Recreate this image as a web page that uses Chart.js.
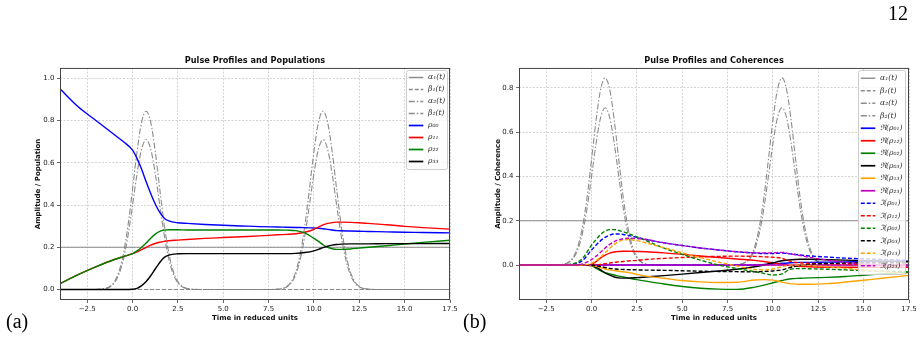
<!DOCTYPE html>
<html>
<head>
<meta charset="utf-8">
<script src="https://cdn.jsdelivr.net/npm/chart.js@4"></script>
<style>
  body { margin: 0; background: #fff; }
  #page { position: relative; width: 923px; height: 338px; overflow: hidden; }
  canvas { position: absolute; top: 0; }
  #popChart { left: 0; }
  #cohChart { left: 460px; }
  .tag { position: absolute; font-family: "Liberation Serif", serif; font-size: 20px; line-height: 1; color: #000; }
</style>
</head>
<body>
<div id="page">
  <canvas id="popChart" width="460" height="338"></canvas>
  <canvas id="cohChart" width="463" height="338"></canvas>
  <div class="tag" style="left:6px; top:311px;">(a)</div>
  <div class="tag" style="left:463px; top:311px;">(b)</div>
  <div class="tag" style="left:888px; top:3px;">12</div>
</div>
<script>
// tick labels
const xTicks = [-2.5, 0, 2.5, 5, 7.5, 10, 12.5, 15, 17.5];
const yTicksPop = [0, 0.2, 0.4, 0.6, 0.8, 1.0];
const yTicksCoh = [0, 0.2, 0.4, 0.6, 0.8];

// pulse profiles
const tEdge = [-4, 17.5];
const alpha1 = [0.2, 0.2];
const beta1 = [0, 0];
const tPulse = [-4, -2.25, -1.75, -1.25, -1, -0.75, -0.5, -0.25, 0, 0.25,
  0.5, 0.75, 1, 1.25, 1.5, 1.75, 2, 2.25, 2.5, 2.75,
  3.25, 3.75, 7.5, 8, 8.5, 8.75, 9, 9.25, 9.5, 9.75,
  10, 10.25, 10.5, 10.75, 11, 11.25, 11.5, 11.75, 12, 12.25,
  12.5, 13, 13.5, 17.5];
const alpha2 = [0, 0, 0.0015, 0.014, 0.037, 0.085, 0.172, 0.304, 0.476, 0.655,
  0.793, 0.845, 0.793, 0.655, 0.476, 0.304, 0.172, 0.085, 0.037, 0.014,
  0.0015, 0, 0, 0.0015, 0.014, 0.037, 0.085, 0.172, 0.304, 0.476,
  0.655, 0.793, 0.845, 0.793, 0.655, 0.476, 0.304, 0.172, 0.085, 0.037,
  0.014, 0.0015, 0, 0];
const beta2 = [0, 0, 0.0012, 0.012, 0.031, 0.0715, 0.144, 0.256, 0.40, 0.55,
  0.666, 0.71, 0.666, 0.55, 0.40, 0.256, 0.144, 0.0715, 0.031, 0.012,
  0.0012, 0, 0, 0.0012, 0.012, 0.031, 0.0715, 0.144, 0.256, 0.40,
  0.55, 0.666, 0.71, 0.666, 0.55, 0.40, 0.256, 0.144, 0.0715, 0.031,
  0.012, 0.0012, 0, 0];

// populations
const tPop = [-4, -3, -2, -1, -0.5, 0, 0.25, 0.5, 0.75, 1,
  1.25, 1.5, 1.75, 2, 2.5, 3, 4, 5, 6, 7,
  8, 8.5, 9, 9.5, 10, 10.25, 10.5, 10.75, 11, 11.25,
  11.5, 12, 12.5, 13, 14, 15, 16, 17.5];
const rho00 = [0.951, 0.866, 0.80, 0.733, 0.70, 0.66, 0.62, 0.57, 0.51, 0.455,
  0.405, 0.365, 0.338, 0.325, 0.316, 0.313, 0.308, 0.304, 0.301, 0.298,
  0.296, 0.295, 0.294, 0.293, 0.291, 0.29, 0.288, 0.285, 0.282, 0.279,
  0.278, 0.277, 0.276, 0.275, 0.273, 0.271, 0.27, 0.268];
const rho11 = [0.027, 0.07, 0.108, 0.142, 0.156, 0.17, 0.178, 0.189, 0.2, 0.21,
  0.218, 0.224, 0.228, 0.231, 0.234, 0.237, 0.242, 0.246, 0.25, 0.254,
  0.259, 0.261, 0.264, 0.271, 0.285, 0.296, 0.306, 0.313, 0.317, 0.319,
  0.319, 0.318, 0.316, 0.313, 0.307, 0.299, 0.293, 0.286];
const rho22 = [0.027, 0.07, 0.108, 0.142, 0.156, 0.17, 0.183, 0.2, 0.22, 0.243,
  0.262, 0.275, 0.281, 0.283, 0.283, 0.282, 0.282, 0.282, 0.282, 0.282,
  0.282, 0.281, 0.279, 0.268, 0.242, 0.228, 0.212, 0.2, 0.193, 0.19,
  0.19, 0.192, 0.196, 0.2, 0.207, 0.215, 0.223, 0.233];
const rho33 = [0, 0, 0, 0, 0, 0.001, 0.005, 0.018, 0.038, 0.065,
  0.097, 0.128, 0.152, 0.163, 0.169, 0.17, 0.17, 0.17, 0.17, 0.17,
  0.17, 0.17, 0.171, 0.175, 0.183, 0.19, 0.198, 0.205, 0.21, 0.213,
  0.215, 0.216, 0.216, 0.216, 0.217, 0.217, 0.217, 0.218];

// coherences
const tCoh = [-4, -2, -1, -0.5, 0, 0.25, 0.5, 0.75, 1, 1.25,
  1.5, 1.75, 2, 2.5, 3, 4, 5, 6, 7, 8,
  9, 9.5, 10, 10.5, 11, 11.5, 12, 13, 14, 15,
  16, 17.5];
const reRho01 = [0, 0, 0, 0, 0, 0, 0, 0, 0, 0,
  0, 0, 0, 0, 0, 0, 0, 0, 0, 0,
  0, 0.002, 0.005, 0.008, 0.01, 0.012, 0.012, 0.013, 0.014, 0.015,
  0.016, 0.017];
const reRho12 = [0, 0, 0, 0, 0.003, 0.015, 0.032, 0.045, 0.054, 0.059,
  0.061, 0.062, 0.062, 0.061, 0.06, 0.055, 0.048, 0.041, 0.034, 0.027,
  0.021, 0.016, 0.01, 0.003, -0.003, -0.006, -0.008, -0.01, -0.01, -0.01,
  -0.01, -0.01];
const reRho02 = [0, 0, 0, 0, -0.003, -0.015, -0.027, -0.035, -0.04, -0.045,
  -0.05, -0.054, -0.058, -0.066, -0.073, -0.086, -0.097, -0.105, -0.109, -0.11,
  -0.1, -0.091, -0.08, -0.07, -0.062, -0.06, -0.058, -0.056, -0.052, -0.046,
  -0.04, -0.033];
const reRho03 = [0, 0, 0, 0, -0.002, -0.01, -0.022, -0.036, -0.046, -0.054,
  -0.058, -0.059, -0.059, -0.057, -0.054, -0.048, -0.041, -0.034, -0.027, -0.019,
  -0.008, 0, 0.01, 0.019, 0.024, 0.026, 0.026, 0.024, 0.022, 0.02,
  0.018, 0.015];
const reRho13 = [0, 0, 0, 0, -0.002, -0.006, -0.012, -0.018, -0.022, -0.025,
  -0.028, -0.031, -0.033, -0.042, -0.05, -0.06, -0.07, -0.076, -0.079, -0.078,
  -0.068, -0.066, -0.068, -0.077, -0.085, -0.087, -0.087, -0.084, -0.077, -0.069,
  -0.06, -0.047];
const reRho23 = [0, 0, 0, 0, 0, 0, 0, 0, 0, 0,
  0, 0, 0, 0, 0, 0, 0, 0, 0, 0,
  0, 0, 0, 0, 0, 0, 0, 0, 0, 0,
  0, 0];
const imRho01 = [0, 0, 0.004, 0.02, 0.068, 0.09, 0.11, 0.125, 0.135, 0.14,
  0.14, 0.138, 0.134, 0.125, 0.115, 0.1, 0.088, 0.077, 0.068, 0.06,
  0.054, 0.052, 0.052, 0.054, 0.05, 0.045, 0.041, 0.036, 0.031, 0.028,
  0.025, 0.021];
const imRho12 = [0, 0, 0, 0, 0, 0.001, 0.003, 0.006, 0.009, 0.012,
  0.014, 0.016, 0.018, 0.021, 0.025, 0.03, 0.034, 0.037, 0.039, 0.04,
  0.039, 0.037, 0.035, 0.03, 0.015, 0.01, 0.008, 0.006, 0.005, 0.004,
  0.003, 0.002];
const imRho02 = [0, 0, 0.006, 0.03, 0.09, 0.115, 0.138, 0.153, 0.16, 0.16,
  0.156, 0.15, 0.143, 0.127, 0.11, 0.076, 0.048, 0.022, 0, -0.016,
  -0.03, -0.038, -0.045, -0.04, -0.018, -0.016, -0.017, -0.019, -0.022, -0.025,
  -0.028, -0.03];
const imRho03 = [0, 0, 0, 0, 0, -0.003, -0.007, -0.011, -0.015, -0.017,
  -0.019, -0.02, -0.021, -0.022, -0.023, -0.024, -0.026, -0.028, -0.029, -0.03,
  -0.031, -0.029, -0.027, -0.022, -0.01, -0.002, 0.003, 0.007, 0.009, 0.01,
  0.01, 0.01];
const imRho13 = [0, 0, 0, 0, 0.008, 0.02, 0.035, 0.055, 0.075, 0.093,
  0.106, 0.113, 0.115, 0.11, 0.1, 0.078, 0.055, 0.034, 0.013, -0.004,
  -0.02, -0.022, -0.018, -0.008, 0, 0, -0.002, -0.008, -0.015, -0.022,
  -0.03, -0.04];
const imRho23 = [0, 0, 0, 0.005, 0.025, 0.04, 0.058, 0.077, 0.093, 0.106,
  0.114, 0.119, 0.121, 0.12, 0.115, 0.1, 0.088, 0.077, 0.068, 0.06,
  0.055, 0.054, 0.055, 0.057, 0.05, 0.043, 0.035, 0.022, 0.012, 0.005,
  0, -0.005];

Chart.defaults.font.family = '"DejaVu Sans", sans-serif';
Chart.defaults.color = '#222';

const gray = 'rgba(128,128,128,0.9)';
const dashed = [4, 2];
const dashDot = [6, 2, 1.5, 2];
const gridColor = 'rgba(176,176,176,0.7)';

// valeur -> texte de graduation, signe moins typographique
const fmt = v => v.toFixed(1).replace('-', '\u2212');

function series(label, ts, vs, color, dash, width) {
    return {
        label: label,
        data: ts.map((t, i) => ({ x: t, y: vs[i] })),
        borderColor: color,
        borderDash: dash || [],
        borderWidth: width || 1.4,
        pointRadius: 0,
        fill: false,
        cubicInterpolationMode: 'monotone'
    };
}

function pulseSeries() {
    return [
        series('α\u2081(t)', tEdge, alpha1, gray, [], 1.1),
        series('β\u2081(t)', tEdge, beta1, gray, dashed, 1.1),
        series('α\u2082(t)', tPulse, alpha2, gray, dashDot, 1.1),
        series('β\u2082(t)', tPulse, beta2, gray, dashDot, 1.1)
    ];
}

// cadre complet autour de la zone de tracé
const frame = {
    id: 'frame',
    afterDatasetsDraw(chart) {
        const { ctx, chartArea: a } = chart;
        ctx.save();
        ctx.strokeStyle = '#444';
        ctx.lineWidth = 1;
        ctx.strokeRect(a.left + 0.5, a.top + 0.5, a.width - 1, a.height - 1);
        ctx.restore();
    }
};

// légende dessinée dans le graphique, en haut à droite
const innerLegend = {
    id: 'innerLegend',
    afterDraw(chart, args, opts) {
        const ctx = chart.ctx;
        const items = chart.data.datasets;
        const x = opts.x, y = opts.y, w = opts.w, rowH = opts.rowH, pad = opts.pad;
        const h = pad * 2 + items.length * rowH;
        ctx.save();
        ctx.fillStyle = 'rgba(255,255,255,0.8)';
        ctx.strokeStyle = '#cccccc';
        ctx.lineWidth = 1;
        ctx.beginPath();
        ctx.roundRect(x + 0.5, y + 0.5, w, h, 2);
        ctx.fill();
        ctx.stroke();
        items.forEach((ds, i) => {
            const yy = y + pad + rowH * (i + 0.5);
            ctx.beginPath();
            ctx.setLineDash(ds.borderDash);
            ctx.strokeStyle = ds.borderColor;
            ctx.lineWidth = ds.borderWidth + 0.3;
            ctx.moveTo(x + 2.8, yy);
            ctx.lineTo(x + 17.3, yy);
            ctx.stroke();
            ctx.setLineDash([]);
            ctx.fillStyle = '#333';
            ctx.font = 'italic 7.6px "DejaVu Serif", serif';
            ctx.textBaseline = 'middle';
            ctx.fillText(ds.label, x + 22, yy);
        });
        ctx.restore();
    }
};

function axes(yMin, yMax, yTicks, yTitle, yWidth) {
    return {
        x: {
            type: 'linear', min: -4, max: 17.5,
            afterBuildTicks: s => { s.ticks = xTicks.map(v => ({ value: v })); },
            afterFit: s => { s.height = 38; },
            ticks: { callback: v => fmt(v), font: { size: 7 }, padding: 1.5, maxRotation: 0, autoSkip: false },
            grid: { color: gridColor, lineWidth: 0.8, tickLength: 3, tickColor: '#444', tickWidth: 0.8 },
            border: { display: false, dash: [2, 1.5] },
            title: { display: true, text: 'Time in reduced units', color: '#111',
                font: { size: 7, weight: 'bold' }, padding: { top: 0, bottom: 15.8 } }
        },
        y: {
            min: yMin, max: yMax,
            afterBuildTicks: s => { s.ticks = yTicks.map(v => ({ value: v })); },
            afterFit: s => { s.width = yWidth; },
            ticks: { callback: v => fmt(v), font: { size: 7 }, padding: 2.5 },
            grid: { color: gridColor, lineWidth: 0.8, tickLength: 3, tickColor: '#444', tickWidth: 0.8 },
            border: { display: false, dash: [2, 1.5] },
            title: { display: true, text: yTitle, color: '#111',
                font: { size: 7, weight: 'bold' }, padding: { top: 34, bottom: 0 } }
        }
    };
}

function makeChart(id, title, datasets, scales, legendOpts, rightPad) {
    datasets.forEach((d, i) => { d.order = -i; }); // les dernières séries passent dessus
    return new Chart(document.getElementById(id), {
        type: 'line',
        data: { datasets: datasets },
        options: {
            responsive: false,
            animation: false,
            events: [],
            layout: { autoPadding: false, padding: { left: 0, right: rightPad, top: 0, bottom: 0 } },
            scales: scales,
            plugins: {
                legend: { display: false },
                tooltip: { enabled: false },
                title: { display: true, text: title, fullSize: false, color: '#111',
                    font: { size: 8.2, weight: 'bold' }, padding: { top: 55.6, bottom: 2.5 } },
                innerLegend: legendOpts
            }
        },
        plugins: [frame, innerLegend]
    });
}

// Graphique (a) : populations
makeChart('popChart', 'Pulse Profiles and Populations',
    pulseSeries().concat([
        series('ρ\u2080\u2080', tPop, rho00, '#0000ff'),
        series('ρ\u2081\u2081', tPop, rho11, '#ff0000'),
        series('ρ\u2082\u2082', tPop, rho22, '#008000'),
        series('ρ\u2083\u2083', tPop, rho33, '#000000')
    ]),
    axes(-0.05, 1.05, yTicksPop, 'Amplitude / Population', 60),
    { x: 406, y: 70, w: 41, rowH: 12.0, pad: 1.5 },
    10);

// Graphique (b) : cohérences
makeChart('cohChart', 'Pulse Profiles and Coherences',
    pulseSeries().concat([
        series('ℜ(ρ\u2080\u2081)', tCoh, reRho01, '#0000ff'),
        series('ℜ(ρ\u2081\u2082)', tCoh, reRho12, '#ff0000'),
        series('ℜ(ρ\u2080\u2082)', tCoh, reRho02, '#008000'),
        series('ℜ(ρ\u2080\u2083)', tCoh, reRho03, '#000000'),
        series('ℜ(ρ\u2081\u2083)', tCoh, reRho13, '#ffa500'),
        series('ℜ(ρ\u2082\u2083)', tCoh, reRho23, '#bf00bf'),
        series('ℑ(ρ\u2080\u2081)', tCoh, imRho01, '#0000ff', dashed),
        series('ℑ(ρ\u2081\u2082)', tCoh, imRho12, '#ff0000', dashed),
        series('ℑ(ρ\u2080\u2082)', tCoh, imRho02, '#008000', dashed),
        series('ℑ(ρ\u2080\u2083)', tCoh, imRho03, '#000000', dashed),
        series('ℑ(ρ\u2081\u2083)', tCoh, imRho13, '#ffa500', dashed),
        series('ℑ(ρ\u2082\u2083)', tCoh, imRho23, '#bf00bf', dashed)
    ]),
    axes(-0.158, 0.89, yTicksCoh, 'Amplitude / Coherence', 59),
    { x: 398, y: 70, w: 47, rowH: 12.5, pad: 2 },
    14);
</script>
</body>
</html>
